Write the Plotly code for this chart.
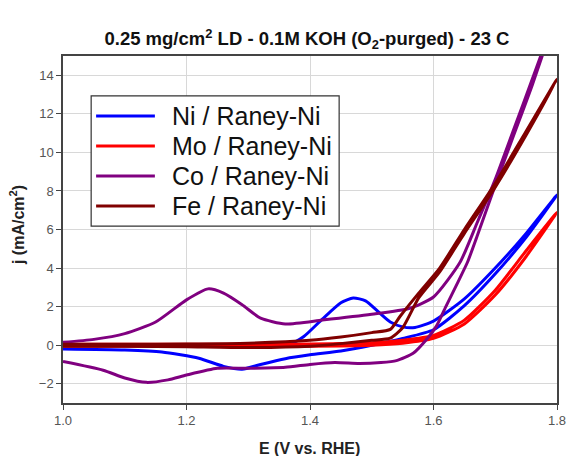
import plotly.graph_objects as go

series_names = ["Ni / Raney-Ni", "Mo / Raney-Ni", "Co / Raney-Ni", "Fe / Raney-Ni"]
series_colors = ["#0000FF", "#FF0000", "#800080", "#800000"]

# Ni / Raney-Ni (CV loop: anodic then cathodic sweep)
ni_x = [1.00, 1.10, 1.20, 1.30, 1.37, 1.39, 1.42, 1.45, 1.47, 1.49, 1.51, 1.53, 1.55, 1.57, 1.60, 1.65, 1.70, 1.75, 1.80,
        1.75, 1.70, 1.65, 1.60, 1.55, 1.50, 1.45, 1.40, 1.36, 1.32, 1.29, 1.26, 1.22, 1.16, 1.10, 1.00]
ni_y = [0.00, 0.00, 0.02, 0.04, 0.10, 0.45, 1.35, 2.20, 2.45, 2.30, 1.75, 1.20, 0.95, 0.92, 1.25, 2.40, 4.00, 5.80, 7.80,
        5.60, 3.70, 2.05, 0.80, 0.35, 0.00, -0.30, -0.50, -0.70, -1.00, -1.25, -1.10, -0.68, -0.35, -0.25, -0.20]

# Mo / Raney-Ni
mo_x = [1.00, 1.10, 1.20, 1.30, 1.40, 1.50, 1.55, 1.60, 1.65, 1.70, 1.75, 1.80,
        1.75, 1.70, 1.65, 1.60, 1.55, 1.50, 1.40, 1.30, 1.20, 1.10, 1.00]
mo_y = [0.05, 0.05, 0.05, 0.05, 0.06, 0.12, 0.25, 0.50, 1.30, 2.85, 4.90, 6.90,
        4.60, 2.60, 1.10, 0.35, 0.10, 0.00, -0.05, -0.05, -0.05, -0.05, -0.05]

# Co / Raney-Ni
co_x = [1.00, 1.05, 1.10, 1.15, 1.20, 1.235, 1.26, 1.29, 1.32, 1.36, 1.42, 1.50, 1.56, 1.60, 1.643, 1.67, 1.70, 1.73, 1.76, 1.80,
        1.76, 1.73, 1.70, 1.67, 1.655, 1.64, 1.62, 1.605, 1.59, 1.567, 1.54, 1.515, 1.48, 1.44, 1.40, 1.36, 1.30,
        1.25, 1.20, 1.17, 1.135, 1.10, 1.065, 1.00]
co_y = [0.15, 0.30, 0.60, 1.20, 2.35, 2.92, 2.70, 2.10, 1.40, 1.10, 1.30, 1.60, 1.90, 2.50, 4.30, 6.30, 8.60, 11.20, 13.80, 17.30,
        13.50, 10.90, 8.30, 5.60, 4.30, 3.30, 2.00, 1.00, 0.35, -0.42, -0.80, -0.90, -0.95, -0.90, -1.00, -1.15, -1.20,
        -1.20, -1.55, -1.80, -1.93, -1.70, -1.30, -0.85]

# Fe / Raney-Ni
fe_x = [1.00, 1.10, 1.20, 1.30, 1.40, 1.45, 1.50, 1.53, 1.546, 1.576, 1.61, 1.65, 1.70, 1.75, 1.80,
        1.75, 1.70, 1.65, 1.61, 1.576, 1.55, 1.53, 1.50, 1.45, 1.40, 1.30, 1.20, 1.10, 1.00]
fe_y = [0.05, 0.05, 0.06, 0.10, 0.25, 0.42, 0.65, 0.82, 1.50, 2.70, 4.00, 6.00, 8.40, 11.10, 13.80,
        10.90, 8.20, 5.80, 3.80, 2.45, 0.90, 0.36, 0.25, 0.08, -0.05, -0.12, -0.08, -0.05, -0.05]

xs = [ni_x, mo_x, co_x, fe_x]
ys = [ni_y, mo_y, co_y, fe_y]

title_text = "0.25 mg/cm<sup>2</sup> LD - 0.1M KOH (O<sub>2</sub>-purged) - 23 C"
x_title = "E (V vs. RHE)"
y_title = "j (mA/cm<sup>2</sup>)"
x_ticks = [1.0, 1.2, 1.4, 1.6, 1.8]
y_ticks = [-2, 0, 2, 4, 6, 8, 10, 12, 14]

FONT = "Liberation Sans, Arial, sans-serif"

fig = go.Figure()
for name, color, x, y in zip(series_names, series_colors, xs, ys):
    fig.add_trace(go.Scatter(x=x, y=y, mode="lines", name=name,
                             line=dict(color=color, width=3, shape="spline", smoothing=0.6),
                             showlegend=False))

# manual legend (box, line samples, labels)
shapes = [dict(type="rect", xref="paper", yref="paper", x0=0.057, x1=0.559, y0=0.510, y1=0.885,
               line=dict(color="#333333", width=1.2), fillcolor="white", layer="above")]
annotations = []
for i, (name, color) in enumerate(zip(series_names, series_colors)):
    yy = 0.827 - i * 0.0865
    shapes.append(dict(type="line", xref="paper", yref="paper", x0=0.067, x1=0.186, y0=yy, y1=yy,
                       line=dict(color=color, width=3), layer="above"))
    annotations.append(dict(xref="paper", yref="paper", x=0.216, y=yy, text=name, showarrow=False,
                            xanchor="left", yanchor="middle",
                            font=dict(family=FONT, size=25, color="#111111")))

# axis titles
annotations.append(dict(xref="paper", yref="paper", x=0.498, y=-0.13, text=x_title, showarrow=False,
                        xanchor="center", yanchor="middle",
                        font=dict(family=FONT, size=16, color="#222222", weight="bold")))
annotations.append(dict(xref="paper", yref="paper", x=-0.093, y=0.513, text=y_title, showarrow=False,
                        xanchor="center", yanchor="middle", textangle=-90,
                        font=dict(family=FONT, size=16, color="#222222", weight="bold")))

fig.update_layout(
    width=567, height=456,
    margin=dict(l=63, r=10, t=56, b=53),
    paper_bgcolor="white", plot_bgcolor="white",
    title=dict(text=title_text, x=0.5414, xanchor="center", y=0.9145, yanchor="middle",
               font=dict(family=FONT, size=18.5, color="#111111", weight="bold")),
    shapes=shapes, annotations=annotations,
    font=dict(family=FONT),
)
fig.update_xaxes(range=[1.0, 1.8], tickvals=x_ticks, ticktext=[f"{v:.1f}" for v in x_ticks],
                 showgrid=True, gridcolor="#d8d8d8", gridwidth=1.2,
                 showline=True, linecolor="#444444", linewidth=1.5, mirror=True,
                 ticks="outside", ticklen=5, tickcolor="#444444",
                 tickfont=dict(family=FONT, size=13, color="#555555"),
                 automargin=False, zeroline=False)
fig.update_yaxes(range=[-3, 15], tickvals=y_ticks,
                 showgrid=True, gridcolor="#d8d8d8", gridwidth=1.2,
                 showline=True, linecolor="#444444", linewidth=1.5, mirror=True,
                 ticks="outside", ticklen=5, tickcolor="#444444",
                 tickfont=dict(family=FONT, size=13, color="#555555"),
                 automargin=False, zeroline=False)

fig.write_html("out.html", config={"displayModeBar": False},
               post_script="document.body.style.margin='0';")
